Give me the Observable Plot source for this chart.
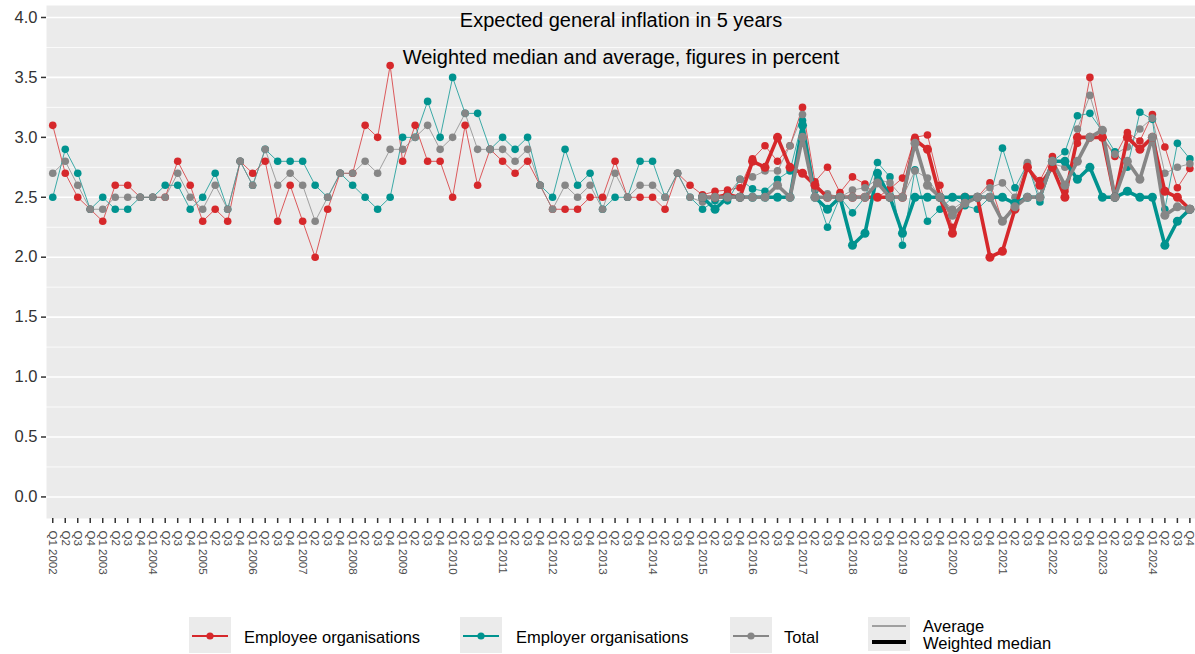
<!DOCTYPE html>
<html><head><meta charset="utf-8">
<script src="https://cdn.jsdelivr.net/npm/d3@7"></script>
<script src="https://cdn.jsdelivr.net/npm/@observablehq/plot@0.6"></script>
<style>
body{margin:0;background:#fff;font-family:"Liberation Sans",Arial,sans-serif;}
#wrap{position:relative;width:1195px;height:654px;overflow:hidden;}
#legend{position:absolute;left:0;top:0;width:1195px;height:654px;pointer-events:none;}
.key{position:absolute;background:#ebebeb;}
.lt{position:absolute;font-size:16.5px;color:#000;white-space:nowrap;line-height:17px;}
</style></head><body><div id="wrap"><div id="chart"></div><div id="legend"></div></div>
<script>
const years = d3.range(2002, 2025);
const quarterNames = ["Q1","Q2","Q3","Q4"];
const seriesNames = ["Employee organisations","Employer organisations","Total"];
const seriesColors = ["#d6282b","#00938f","#868686"];
const titleText = "Expected general inflation in 5 years";
const subtitleText = "Weighted median and average, figures in percent";
const yTicks = [0,0.5,1,1.5,2,2.5,3,3.5,4];
const yMinor = [0.25,0.75,1.25,1.75,2.25,2.75,3.25,3.75];
const medianStartYear = 2015;

// Average, Q1 2002 - Q4 2024
const employeeAvg = [
 3.1,2.7,2.5,2.4, 2.3,2.6,2.6,2.5, 2.5,2.5,2.8,2.6,
 2.3,2.4,2.3,2.8, 2.7,2.8,2.3,2.6, 2.3,2.0,2.4,2.7,
 2.7,3.1,3.0,3.6, 2.8,3.1,2.8,2.8, 2.5,3.1,2.6,2.9,
 2.8,2.7,2.8,2.6, 2.4,2.4,2.4,2.5, 2.5,2.8,2.5,2.5,
 2.5,2.4,2.7,2.6,
 2.52,2.55,2.56,2.58, 2.82,2.93,2.80,2.93, 3.25,2.63,2.75,2.54,
 2.67,2.61,2.50,2.57, 2.66,3.00,3.02,2.60, 2.25,2.45,2.50,2.62,
 2.30,2.45,2.76,2.64, 2.84,2.55,2.95,3.50, 3.00,2.84,3.04,2.97,
 3.19,2.92,2.58,2.74];
const employerAvg = [
 2.5,2.9,2.7,2.4, 2.5,2.4,2.4,2.5, 2.5,2.6,2.6,2.4,
 2.5,2.7,2.4,2.8, 2.6,2.9,2.8,2.8, 2.8,2.6,2.5,2.7,
 2.6,2.5,2.4,2.5, 3.0,3.0,3.3,3.0, 3.5,3.2,3.2,2.9,
 3.0,2.9,3.0,2.6, 2.5,2.9,2.6,2.7, 2.4,2.5,2.5,2.8,
 2.8,2.5,2.7,2.5,
 2.40,2.47,2.47,2.65, 2.57,2.55,2.65,2.72, 3.14,2.56,2.25,2.50,
 2.37,2.50,2.79,2.67, 2.10,2.73,2.30,2.40, 2.50,2.43,2.40,2.50,
 2.91,2.58,2.78,2.46, 2.80,2.88,3.18,3.20, 3.05,2.88,2.75,3.21,
 3.15,2.40,2.95,2.82];
const totalAvg = [
 2.7,2.8,2.6,2.4, 2.4,2.5,2.5,2.5, 2.5,2.5,2.7,2.5,
 2.4,2.6,2.4,2.8, 2.6,2.9,2.6,2.7, 2.6,2.3,2.5,2.7,
 2.7,2.8,2.7,2.9, 2.9,3.0,3.1,2.9, 3.0,3.2,2.9,2.9,
 2.9,2.8,2.9,2.6, 2.4,2.6,2.5,2.6, 2.4,2.7,2.5,2.6,
 2.6,2.5,2.7,2.5,
 2.46,2.50,2.52,2.65, 2.67,2.72,2.72,2.93, 3.19,2.57,2.53,2.50,
 2.56,2.58,2.65,2.62, 2.50,2.72,2.66,2.50, 2.40,2.47,2.50,2.58,
 2.62,2.50,2.79,2.50, 2.78,2.75,3.07,3.35, 3.00,2.86,2.92,3.07,
 3.16,2.70,2.75,2.78];
// Weighted median, Q1 2015 - Q4 2024
const employeeMed = [
 2.5,2.5,2.52,2.5, 2.8,2.75,3.0,2.75, 2.7,2.6,2.5,2.5,
 2.5,2.5,2.5,2.5, 2.5,2.98,2.9,2.5, 2.2,2.5,2.5,2.0,
 2.05,2.4,2.75,2.6, 2.75,2.5,3.0,3.0, 3.0,2.5,3.0,2.9,
 3.0,2.55,2.5,2.4];
const employerMed = [
 2.5,2.4,2.5,2.5, 2.5,2.5,2.5,2.5, 3.1,2.5,2.4,2.5,
 2.1,2.2,2.7,2.5, 2.2,2.5,2.5,2.5, 2.5,2.5,2.5,2.5,
 2.5,2.45,2.5,2.5, 2.8,2.8,2.65,2.75, 2.5,2.5,2.55,2.5,
 2.5,2.1,2.3,2.4];
const totalMed = [
 2.5,2.5,2.5,2.5, 2.5,2.5,2.6,2.5, 3.0,2.5,2.5,2.5,
 2.5,2.5,2.62,2.5, 2.5,2.95,2.6,2.5, 2.35,2.45,2.5,2.5,
 2.3,2.42,2.5,2.5, 2.8,2.6,2.8,3.0, 3.06,2.5,2.8,2.65,
 3.0,2.35,2.42,2.4];

const tickLabels = years.flatMap(y => quarterNames.map((q,k) => k === 0 ? `${q} ${y}` : q));
const medStart = (medianStartYear - years[0]) * 4;
const avgSets = [employeeAvg, employerAvg, totalAvg];
const medSets = [employeeMed, employerMed, totalMed];
const avgRows = avgSets.flatMap((arr, s) => arr.map((v, i) => ({i, v, s: seriesNames[s]})));
const medRows = medSets.flatMap((arr, s) => arr.map((v, j) => ({i: j + medStart, v, s: seriesNames[s]})));

const chart = Plot.plot({
  width: 1195, height: 605,
  marginLeft: 46, marginRight: 0, marginTop: 5, marginBottom: 87,
  style: {fontFamily: "'Liberation Sans', Arial, sans-serif", background: "transparent", overflow: "visible"},
  x: {domain: [-0.5, 91.45], axis: null},
  y: {domain: [-0.18, 4.1], axis: null},
  color: {domain: seriesNames, range: seriesColors},
  marks: [
    Plot.frame({fill: "#ebebeb", stroke: "none"}),
    Plot.ruleY(yMinor, {stroke: "#fff", strokeWidth: 0.8}),
    Plot.ruleY(yTicks, {stroke: "#fff", strokeWidth: 1.6}),
    Plot.axisY({ticks: yTicks, tickFormat: d => d.toFixed(1), fontSize: 16.5, tickSize: 5, tickPadding: 4, stroke: "#333", fill: "#333", strokeWidth: 1.5, label: null}),
    Plot.axisX({ticks: d3.range(tickLabels.length), tickFormat: i => tickLabels[i], tickRotate: 90, fontSize: 11.5, tickSize: 5, tickPadding: 7, stroke: "#333", fill: "#4d4d4d", strokeWidth: 1.5, label: null}),
    Plot.line(avgRows, {x: "i", y: "v", z: "s", stroke: "s", strokeWidth: 1, strokeOpacity: 0.75}),
    Plot.dot(avgRows, {x: "i", y: "v", fill: "s", r: 3.8}),
    Plot.line(medRows, {x: "i", y: "v", z: "s", stroke: "s", strokeWidth: 3.6}),
    Plot.dot(medRows, {x: "i", y: "v", fill: "s", r: 4.5}),
    Plot.text([titleText], {frameAnchor: "top", lineAnchor: "middle", dy: 15, fontSize: 20, fill: "#000"}),
    Plot.text([subtitleText], {frameAnchor: "top", lineAnchor: "middle", dy: 52, fontSize: 20, fill: "#000"})
  ]
});
document.getElementById("chart").appendChild(chart);

// Legend
const legend = document.getElementById("legend");
const keyPos = [{k: 189, t: 244}, {k: 460, t: 516}, {k: 730, t: 784}];
seriesNames.forEach((name, s) => {
  const key = document.createElement("div");
  key.className = "key";
  key.style.cssText = `left:${keyPos[s].k}px;top:617px;width:42px;height:36px;`;
  key.innerHTML = `<svg width="42" height="36"><line x1="3" x2="39" y1="19" y2="19" stroke="${seriesColors[s]}" stroke-width="2.2"/><circle cx="21" cy="19" r="3.6" fill="${seriesColors[s]}"/></svg>`;
  legend.appendChild(key);
  const t = document.createElement("div");
  t.className = "lt";
  t.style.cssText = `left:${keyPos[s].t}px;top:629px;`;
  t.textContent = name;
  legend.appendChild(t);
});
const key4 = document.createElement("div");
key4.className = "key";
key4.style.cssText = "left:868px;top:617px;width:42px;height:34px;";
key4.innerHTML = `<svg width="42" height="34"><line x1="4" x2="38" y1="9" y2="9" stroke="#555" stroke-width="1"/><line x1="4" x2="38" y1="25" y2="25" stroke="#000" stroke-width="4"/></svg>`;
legend.appendChild(key4);
["Average", "Weighted median"].forEach((lab, k) => {
  const t = document.createElement("div");
  t.className = "lt";
  t.style.cssText = `left:923px;top:${618 + k * 17}px;`;
  t.textContent = lab;
  legend.appendChild(t);
});
</script></body></html>
